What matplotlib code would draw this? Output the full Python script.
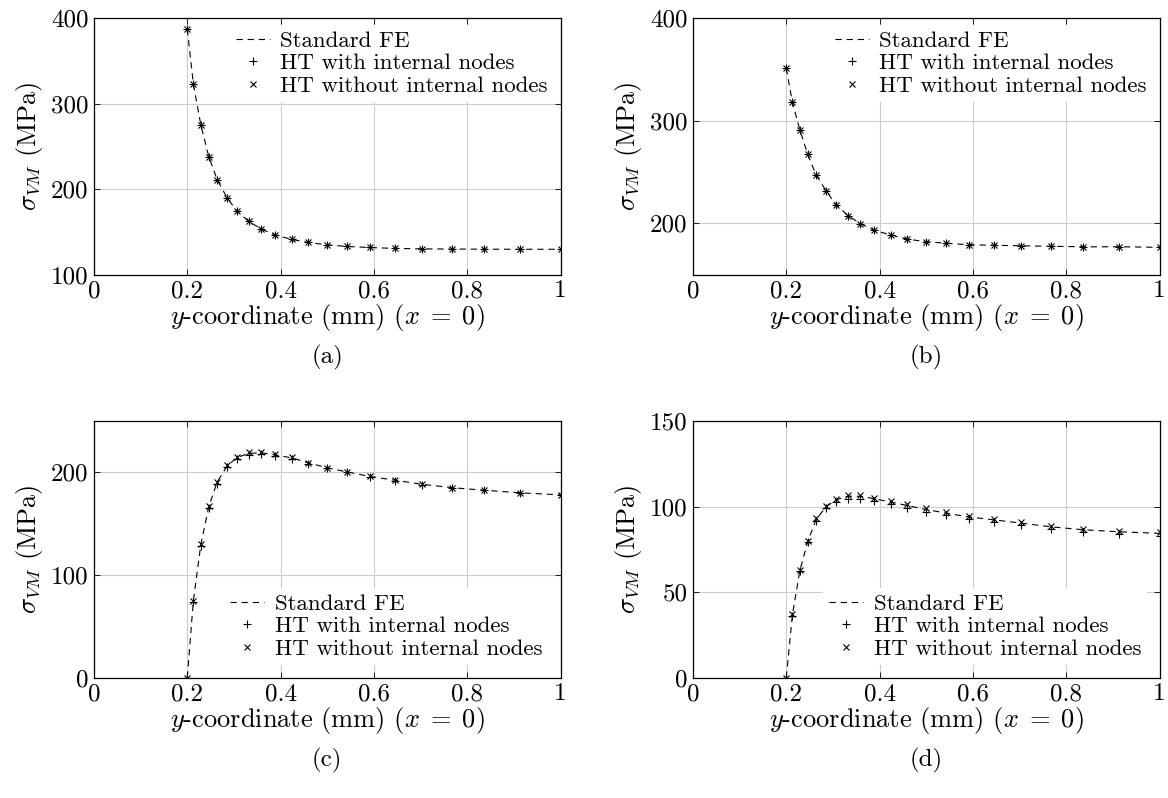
import numpy as np
import matplotlib
matplotlib.use("Agg")
import matplotlib.pyplot as plt

plt.rcParams['font.family'] = 'serif'
plt.rcParams['font.serif'] = ['cmr10']
plt.rcParams['mathtext.fontset'] = 'cm'
plt.rcParams['axes.unicode_minus'] = False
plt.rcParams['lines.scale_dashes'] = False

# node positions along x = 0 (mm)
y_nodes = [0.2, 0.213, 0.229, 0.246, 0.264, 0.286, 0.307, 0.332, 0.359, 0.389, 0.424,
           0.459, 0.499, 0.543, 0.591, 0.645, 0.703, 0.768, 0.837, 0.914, 1.0]

# (a)
a_fe = [387, 323, 275, 238, 211, 189, 174, 162, 153, 146, 141, 137.5, 134.7, 132.8, 131.6,
        130.5, 130, 129.8, 129.6, 129.5, 129.5]
a_ht_int = [387, 323, 275, 238, 211, 189, 174, 162, 153, 146, 141, 137.5, 134.7, 132.8, 131.6,
            130.5, 130, 129.8, 129.6, 129.5, 129.5]
a_ht_noint = [387, 323, 275, 238, 211, 189, 174, 162, 153, 146, 141, 137.5, 134.7, 132.8, 131.6,
              130.5, 130, 129.8, 129.6, 129.5, 129.5]

# (b)
b_fe = [351, 318, 291, 267, 247, 231, 218, 207.5, 199.5, 193, 188.5, 184.5, 182, 180.5, 179,
        178.5, 178, 177.5, 177, 177, 176.5]
b_ht_int = [351, 318, 291, 267, 247, 231, 218, 207.5, 199.5, 193, 188.5, 184.5, 182, 180.5, 179,
            178.5, 178, 177.5, 177, 177, 176.5]
b_ht_noint = [351, 318, 291, 267, 247, 231, 218, 207.5, 199.5, 193, 188.5, 184.5, 182, 180.5, 179,
              178.5, 178, 177.5, 177, 177, 176.5]

# (c)
c_fe = [0, 75, 129.5, 166.5, 190.5, 206.5, 214.5, 218.5, 219, 217, 214, 209.3, 204.5, 200.3,
        196, 192.3, 188.3, 185, 182.5, 180, 178]
c_ht_int = [0, 74, 128, 165, 189, 205, 213, 217, 217.5, 216, 213, 208.5, 204, 200, 195.5,
            192, 188, 185, 182.5, 180, 178]
c_ht_noint = [0, 75, 130, 167, 191, 207, 215, 219.5, 219.5, 217.5, 214.5, 209.5, 204.5, 200.5,
              196, 192.5, 188.5, 185, 182.5, 180, 178]

# (d)
d_fe = [0, 36.5, 62.5, 79.5, 92.5, 100, 104, 106, 106, 104.5, 102.6, 100.6, 98.3, 96.1, 93.9,
        92.2, 90.3, 88.1, 86.4, 85.2, 84.3]
d_ht_int = [0, 36, 62, 79, 91.5, 99, 102.5, 104.5, 104.5, 103, 101.3, 99.3, 97, 94.8, 92.6,
            90.9, 89, 86.8, 85.1, 83.9, 83]
d_ht_noint = [0, 37, 63, 80, 93, 100.5, 104.5, 106.5, 106.5, 105, 103.2, 101.3, 99, 96.8, 94.6,
              92.9, 91, 88.8, 87.1, 85.9, 85]

panels = [
    ("(a)", a_fe, a_ht_int, a_ht_noint, (100, 400), [100, 200, 300, 400], 'upper right'),
    ("(b)", b_fe, b_ht_int, b_ht_noint, (150, 400), [200, 300, 400], 'upper right'),
    ("(c)", c_fe, c_ht_int, c_ht_noint, (0, 250), [0, 100, 200], 'lower right'),
    ("(d)", d_fe, d_ht_int, d_ht_noint, (0, 150), [0, 50, 100, 150], 'lower right'),
]

x_ticks = [0, 0.2, 0.4, 0.6, 0.8, 1]
x_ticklabels = ["0", "0.2", "0.4", "0.6", "0.8", "1"]

fig = plt.figure(figsize=(11.68, 7.98), dpi=100)
W, H = 1168.0, 798.0
lefts = [94, 693, 94, 693]
tops = [18, 18, 421, 421]
aw, ah = 466.5, 256.5

for i, (cap, fe, ht1, ht2, ylim, yt, loc) in enumerate(panels):
    ax = fig.add_axes([lefts[i] / W, 1 - (tops[i] + ah) / H, aw / W, ah / H])
    ax.plot(y_nodes, fe, color='black', lw=0.8, linestyle=(0, (4.5, 3.5)), label='Standard FE')
    ax.plot(y_nodes, ht1, linestyle='none', marker='+', ms=5.5, mew=0.8, color='black',
            label='HT with internal nodes')
    ax.plot(y_nodes, ht2, linestyle='none', marker='x', ms=4, mew=0.8, color='black',
            label='HT without internal nodes')
    ax.set_xlim(0, 1)
    ax.set_ylim(*ylim)
    ax.set_xticks(x_ticks)
    ax.set_xticklabels(x_ticklabels)
    ax.set_yticks(yt)
    ax.set_yticklabels([str(v) for v in yt])
    ax.grid(True, color='#cccccc', lw=0.8)
    ax.set_axisbelow(True)
    ax.tick_params(direction='in', top=True, right=True, length=4, width=0.6,
                   labelsize=18, pad=4)
    for s in ax.spines.values():
        s.set_linewidth(0.9)
    ax.set_xlabel(r'$y$-coordinate (mm) ($x\;=\;0$)', fontsize=19, labelpad=0)
    ax.set_ylabel(r'$\sigma_{VM}$ (MPa)', fontsize=19, labelpad=4)
    bpad = 0.3 if loc == 'upper right' else 0.55
    leg = ax.legend(loc=loc, fontsize=16.5, frameon=True, fancybox=False, framealpha=1,
                    handlelength=1.5, handletextpad=0.45, labelspacing=0.12,
                    borderaxespad=bpad, borderpad=0.25)
    leg.get_frame().set_linewidth(0)
    ax.text(0.5, -0.325, cap, transform=ax.transAxes, ha='center', va='center', fontsize=18)

fig.savefig('out.png', dpi=100)
